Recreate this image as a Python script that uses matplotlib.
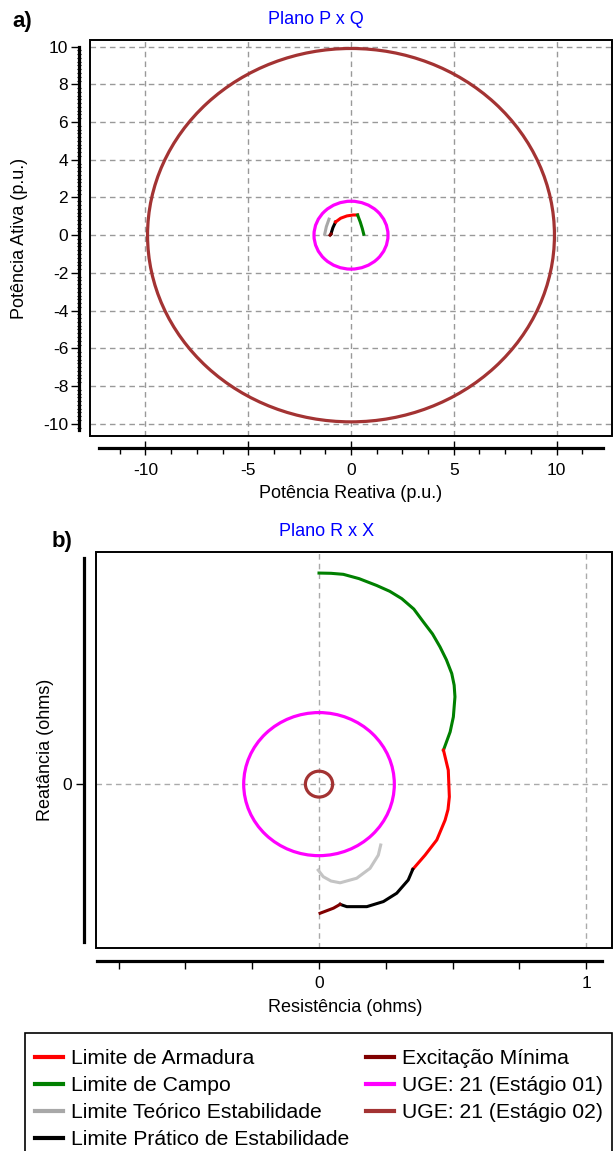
import numpy as np
import matplotlib
matplotlib.use("Agg")
from matplotlib import pyplot as plt
from matplotlib.patches import Circle, Rectangle
from matplotlib.lines import Line2D
from matplotlib.ticker import FixedLocator

plt.rcParams["font.family"] = ["Liberation Sans", "DejaVu Sans"]
plt.rcParams["axes.unicode_minus"] = False

W, H = 615, 1151

# Plano P x Q  (x = Q reativa, y = P ativa), p.u.
pq_teorico_q = [-1.28, -1.20, -1.07]
pq_teorico_p = [0.05, 0.45, 0.85]
pq_pratico_q = [-0.98, -0.88, -0.75]
pq_pratico_p = [0.05, 0.40, 0.70]
pq_armadura_q = [-0.75, -0.50, -0.20, 0.10, 0.32]
pq_armadura_p = [0.70, 0.90, 1.02, 1.07, 1.07]
pq_campo_q = [0.32, 0.45, 0.55, 0.62]
pq_campo_p = [1.07, 0.70, 0.35, 0.05]
pq_excit_q = [-1.02, -0.97]
pq_excit_p = [0.00, 0.06]
pq_uge01 = (0.0, 0.0, 1.8)   # centro q, centro p, raio
pq_uge02 = (0.0, 0.0, 9.9)

# Plano R x X, ohms
rx_campo_r = [0.0, 0.045, 0.091, 0.15, 0.216, 0.265, 0.310, 0.355, 0.391, 0.425, 0.453,
              0.477, 0.497, 0.506, 0.509, 0.503, 0.491, 0.466]
rx_campo_x = [0.832, 0.831, 0.827, 0.810, 0.783, 0.760, 0.731, 0.690, 0.639, 0.592, 0.541,
              0.490, 0.436, 0.390, 0.344, 0.265, 0.206, 0.134]
rx_armadura_r = [0.466, 0.484, 0.488, 0.483, 0.472, 0.441, 0.397, 0.351]
rx_armadura_x = [0.134, 0.055, -0.050, -0.100, -0.142, -0.220, -0.280, -0.336]
rx_pratico_r = [0.351, 0.334, 0.291, 0.241, 0.179, 0.104, 0.079]
rx_pratico_x = [-0.336, -0.378, -0.430, -0.463, -0.483, -0.483, -0.474]
rx_excit_r = [0.079, 0.054, 0.004]
rx_excit_x = [-0.474, -0.489, -0.509]
rx_teorico_r = [-0.003, 0.016, 0.045, 0.079, 0.141, 0.191, 0.222, 0.231]
rx_teorico_x = [-0.339, -0.365, -0.382, -0.389, -0.371, -0.332, -0.280, -0.240]
rx_uge01 = (0.0, 0.0, 0.282)
rx_uge02 = (0.0, 0.0, 0.051)

legend_labels = ["Limite de Armadura", "Limite de Campo", "Limite Teórico Estabilidade",
                 "Limite Prático de Estabilidade", "Excitação Mínima",
                 "UGE: 21 (Estágio 01)", "UGE: 21 (Estágio 02)"]

C_ARM = "#ff0000"
C_CAMPO = "#008000"
C_TEO = "#a8a8a8"
C_PRAT = "#000000"
C_EXC = "#800000"
C_UGE1 = "#ff00ff"
C_UGE2 = "#a33333"
legend_colors = [C_ARM, C_CAMPO, C_TEO, C_PRAT, C_EXC, C_UGE1, C_UGE2]


def px_axes(fig, left, top, right, bottom):
    return fig.add_axes([left / W, 1 - bottom / H, (right - left) / W, (bottom - top) / H])


def frame(ax, grid_color):
    ax.spines["top"].set_visible(False)
    ax.spines["right"].set_visible(False)
    for s in ("left", "bottom"):
        ax.spines[s].set_linewidth(2.3)
    ax.add_patch(Rectangle((0, 0), 1, 1, transform=ax.transAxes, fill=False,
                           ec="black", lw=1.4, clip_on=False, zorder=5))
    ax.grid(True, which="major", color=grid_color, ls=(0, (4, 3)), lw=1.0)
    ax.set_axisbelow(True)
    ax.tick_params(labelsize=12.5)


fig = plt.figure(figsize=(W / 100, H / 100), dpi=100)

# ---------------- a) Plano P x Q ----------------
ax1 = px_axes(fig, 90, 40, 612, 436)
frame(ax1, "#999999")
ax1.set_xlim(-12.7, 12.7)
ax1.set_ylim(-10.65, 10.35)
ax1.spines["left"].set_position(("outward", 7.7))
ax1.spines["left"].set_bounds(-10.35, 10)
ax1.spines["bottom"].set_position(("outward", 8.4))
ax1.spines["bottom"].set_bounds(-12.25, 12.25)
ax1.xaxis.set_major_locator(FixedLocator([-10, -5, 0, 5, 10]))
ax1.xaxis.set_minor_locator(FixedLocator(np.arange(-11.25, 11.3, 1.25)))
ax1.yaxis.set_major_locator(FixedLocator(np.arange(-10, 10.1, 2)))
ax1.yaxis.set_minor_locator(FixedLocator(np.arange(-10.2, 10.01, 0.2)))
ax1.tick_params(axis="x", which="major", direction="inout", length=9.5, width=1, pad=6)
ax1.tick_params(axis="x", which="minor", direction="out", length=4.5, width=1)
ax1.tick_params(axis="y", which="major", direction="out", length=6, width=1, pad=2)
ax1.tick_params(axis="y", which="minor", direction="inout", length=3, width=0.8)

ax1.add_patch(Circle(pq_uge02[:2], pq_uge02[2], fill=False, ec=C_UGE2, lw=2.3))
ax1.add_patch(Circle(pq_uge01[:2], pq_uge01[2], fill=False, ec=C_UGE1, lw=2.3))
ax1.plot(pq_teorico_q, pq_teorico_p, color=C_TEO, lw=2.2)
ax1.plot(pq_pratico_q, pq_pratico_p, color=C_PRAT, lw=2.2)
ax1.plot(pq_armadura_q, pq_armadura_p, color=C_ARM, lw=2.2)
ax1.plot(pq_campo_q, pq_campo_p, color=C_CAMPO, lw=2.2)
ax1.plot(pq_excit_q, pq_excit_p, color=C_EXC, lw=2.2)

ax1.set_xlabel("Potência Reativa (p.u.)", fontsize=13, va="center")
ax1.xaxis.set_label_coords(0.5, (436 - 494) / 396)
ax1.set_ylabel("Potência Ativa (p.u.)", fontsize=13, va="center")
ax1.yaxis.set_label_coords((20 - 90) / 522, 0.5)

# ---------------- b) Plano R x X ----------------
ax2 = px_axes(fig, 96, 552, 612, 948)
frame(ax2, "#aaaaaa")
ax2.set_xlim(-0.835, 1.097)
ax2.set_ylim(-0.646, 0.915)
ax2.spines["left"].set_position(("outward", 8.6))
ax2.spines["left"].set_bounds(-0.624, 0.89)
ax2.spines["bottom"].set_position(("outward", 9.4))
ax2.spines["bottom"].set_bounds(-0.83, 1.06)
ax2.xaxis.set_major_locator(FixedLocator([0, 1]))
ax2.xaxis.set_minor_locator(FixedLocator([-0.75, -0.5, -0.25, 0.25, 0.5, 0.75]))
ax2.yaxis.set_major_locator(FixedLocator([0]))
ax2.tick_params(axis="x", which="both", direction="out", length=5.5, width=1, pad=5)
ax2.tick_params(axis="y", which="major", direction="out", length=5.5, width=1, pad=3)

ax2.add_patch(Circle(rx_uge01[:2], rx_uge01[2], fill=False, ec=C_UGE1, lw=2.3))
ax2.add_patch(Circle(rx_uge02[:2], rx_uge02[2], fill=False, ec=C_UGE2, lw=2.3))
ax2.plot(rx_campo_r, rx_campo_x, color=C_CAMPO, lw=2.2)
ax2.plot(rx_armadura_r, rx_armadura_x, color=C_ARM, lw=2.2)
ax2.plot(rx_pratico_r, rx_pratico_x, color=C_PRAT, lw=2.2)
ax2.plot(rx_excit_r, rx_excit_x, color=C_EXC, lw=2.2)
ax2.plot(rx_teorico_r, rx_teorico_x, color="#c4c4c4", lw=2.2)

ax2.set_xlabel("Resistência (ohms)", fontsize=13, va="center")
ax2.xaxis.set_label_coords((345 - 96) / 516, (948 - 1007) / 396)
ax2.set_ylabel("Reatância (ohms)", fontsize=13, va="center")
ax2.yaxis.set_label_coords((45 - 96) / 516, 0.5)

# titles and panel letters
fig.text(316 / W, 1 - 19 / H, "Plano P x Q", color="#0000ff", fontsize=13, ha="center", va="center")
fig.text(327 / W, 1 - 531 / H, "Plano R x X", color="#0000ff", fontsize=13, ha="center", va="center")
fig.text(12 / W, 1 - 21 / H, "a)", fontsize=16, fontweight="bold", ha="left", va="center")
fig.text(52 / W, 1 - 541 / H, "b)", fontsize=16, fontweight="bold", ha="left", va="center")

# legend: box drawn separately, it runs off the bottom edge like in the screenshot
fig.patches.append(Rectangle((25 / W, -0.02), (612 - 25) / W, 0.02 + 1 - 1033 / H,
                             transform=fig.transFigure, fill=False, ec="black", lw=1.2))
handles = [Line2D([], [], color=c, lw=3) for c in legend_colors]
leg = fig.legend(handles, legend_labels, loc="upper left", bbox_to_anchor=(25 / W, 1 - 1039 / H),
                 ncol=2, fontsize=15.2, frameon=False, borderaxespad=0, borderpad=0.48,
                 handlelength=1.3, handletextpad=0.38, columnspacing=0.82, labelspacing=0.38)

fig.savefig("out.png", dpi=100)
